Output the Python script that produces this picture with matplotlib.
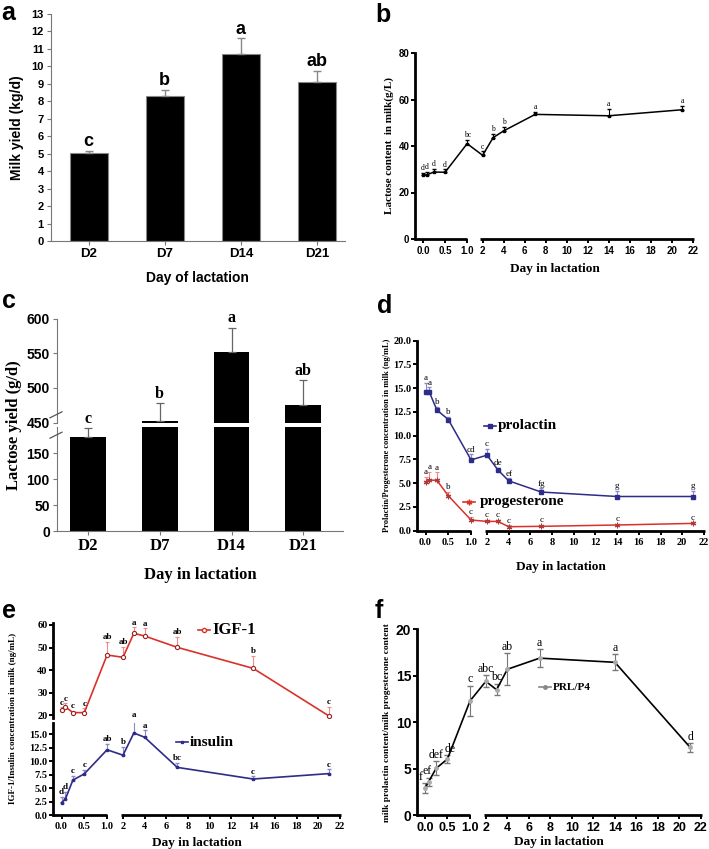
import numpy as np
import matplotlib
matplotlib.use("Agg")  # headless
import matplotlib.pyplot as plt
from matplotlib.lines import Line2D

W, H = 709, 849
SERIF = "Liberation Serif"
SANS = "Liberation Sans"

# -----------------------------
# data
# -----------------------------
bar_days = ["D2", "D7", "D14", "D21"]
milk_yield = [5.05, 8.3, 10.7, 9.1]
milk_err = [0.1, 0.35, 0.9, 0.65]
milk_sig = ["c", "b", "a", "ab"]

lac_yield = [181, 453, 552, 476]
lac_yield_err = [17, 25, 35, 35]
lac_yield_sig = ["c", "b", "a", "ab"]

days = [0, 0.083, 0.25, 0.5, 1, 2, 3, 4, 7, 14, 21]

lactose = [27.4, 27.6, 28.8, 28.7, 41.0, 36.0, 43.6, 46.5, 53.6, 53.0, 55.6]
lactose_err = [1.0, 1.2, 1.3, 1.3, 1.7, 1.7, 1.7, 1.6, 1.0, 3.0, 1.6]
lactose_sig = ["d", "d", "d", "d", "bc", "c", "b", "b", "a", "a", "a"]

prolactin = [14.6, 14.6, 12.7, 11.7, 7.45, 7.95, 6.4, 5.25, 4.07, 3.6, 3.6]
prolactin_err = [1.0, 0.5, 0.35, 0.3, 0.6, 0.7, 0.2, 0.25, 0.4, 0.6, 0.6]
prolactin_sig = ["a", "a", "b", "b", "cd", "c", "de", "ef", "fg", "g", "g"]

progesterone = [5.12, 5.33, 5.3, 3.68, 1.12, 0.98, 0.98, 0.42, 0.46, 0.6, 0.77]
progesterone_err = [0.55, 0.9, 0.85, 0.4, 0.35, 0.15, 0.15, 0.15, 0.15, 0.15, 0.1]
progesterone_sig = ["a", "a", "a", "b", "c", "c", "c", "c", "c", "c", "c"]

igf1 = [22.4, 23.8, 21.2, 21.2, 46.7, 45.7, 56.3, 55.1, 50.1, 40.8, 19.7]
igf1_err = [1.2, 1.5, 0.8, 1.9, 5.9, 4.7, 2.7, 3.4, 4.7, 5.5, 4.1]
igf1_sig = ["c", "c", "c", "c", "ab", "ab", "a", "a", "ab", "b", "c"]

insulin = [2.35, 2.95, 6.5, 7.65, 12.1, 11.1, 15.2, 14.4, 8.85, 6.7, 7.7]
insulin_err = [1.1, 1.4, 0.8, 0.7, 1.05, 1.6, 2.5, 1.3, 0.8, 0.5, 0.8]
insulin_sig = ["d", "d", "c", "c", "ab", "b", "a", "a", "bc", "c", "c"]

prl_p4 = [2.9, 3.6, 5.05, 6.05, 12.3, 14.4, 13.5, 15.7, 16.9, 16.45, 7.3]
prl_p4_err = [0.55, 0.45, 0.75, 0.4, 1.6, 0.65, 0.6, 1.7, 0.95, 0.85, 0.45]
prl_p4_sig = ["f", "ef", "def", "de", "c", "abc", "bc", "ab", "a", "a", "d"]

x_ticks = [0, 0.5, 1, 2, 4, 6, 8, 10, 12, 14, 16, 18, 20, 22]
x_ticklabels = ["0.0", "0.5", "1.0", "2", "4", "6", "8", "10", "12", "14", "16", "18", "20", "22"]

NAVY = "#2E2C86"
RED = "#D8322A"

fig = plt.figure(figsize=(W / 100, H / 100), dpi=100)


def add_ax(left, top, right, bottom):
    return fig.add_axes([left / W, 1 - bottom / H, (right - left) / W, (bottom - top) / H])


def style_ticks(ax, family, size, weight="bold"):
    for t in ax.get_xticklabels() + ax.get_yticklabels():
        t.set_fontfamily(family)
        t.set_fontsize(size)
        t.set_fontweight(weight)


# broken day axis: 0-1 stretched, 2-22 compressed
GAP_U = 1.35
SLOPE = 0.238
XMIN, XMAX = -0.18, 22.1


def fwd(x):
    x = np.asarray(x, float)
    return np.where(x <= 1, x, np.where(x >= 2, GAP_U + (x - 2) * SLOPE, 1 + (x - 1) * (GAP_U - 1)))


def inv(u):
    u = np.asarray(u, float)
    return np.where(u <= 1, u, np.where(u >= GAP_U, 2 + (u - GAP_U) / SLOPE, 1 + (u - 1) / (GAP_U - 1)))


def day_axis(ax, bottom=True, lw=2.0):
    ax.set_xscale("function", functions=(fwd, inv))
    ax.set_xlim(XMIN, XMAX)
    for s in ["top", "right", "bottom"]:
        ax.spines[s].set_visible(False)
    ax.spines["left"].set_linewidth(lw)
    ax.tick_params(axis="y", width=lw * 0.7, length=3, pad=1)
    if bottom:
        ax.set_xticks(x_ticks)
        ax.set_xticklabels(x_ticklabels)
        ax.tick_params(axis="x", width=lw * 0.7, length=3, pad=2)
        tr = ax.get_xaxis_transform()
        for a, b in [(XMIN, 1.02), (1.86, XMAX)]:
            ax.plot([a, b], [0, 0], color="black", lw=lw, transform=tr,
                    clip_on=False, solid_capstyle="butt")
    else:
        ax.set_xticks([])


def sig_labels(ax, xs, ys, errs, labels, size, weight="normal", dy=0.5, dxs=None):
    if dxs is None:
        dxs = [0] * len(xs)
    for x, y, e, s, dx in zip(xs, ys, errs, labels, dxs):
        ax.annotate(s, (x, y + e), xytext=(dx, dy), textcoords="offset points",
                    ha="center", va="bottom", fontsize=size, fontfamily=SERIF,
                    fontweight=weight, annotation_clip=False)


def key(x_px, y_px, color, marker, text, size, mfc=None, text_dx=8, ms=3):
    xs = np.array([x_px - 6, x_px, x_px + 6]) / W
    ys = np.full(3, 1 - y_px / H)
    fig.add_artist(Line2D(xs, ys, color=color, lw=1.2, marker=marker, markevery=[1],
                          ms=ms, mfc=mfc if mfc else color, mec=color,
                          transform=fig.transFigure))
    fig.text((x_px + text_dx) / W, 1 - y_px / H, text, fontsize=size, fontfamily=SERIF,
             fontweight="bold", va="center", ha="left")


def upper_err(e):
    return [np.zeros(len(e)), e]


# -----------------------------
# a: milk yield
# -----------------------------
ax = add_ax(50.7, 14, 345, 241)
xpos = np.arange(len(bar_days))
ax.bar(xpos, milk_yield, width=0.5, color="black", edgecolor="#888888", lw=0.8)
ax.errorbar(xpos, milk_yield, yerr=upper_err(milk_err), fmt="none", ecolor="#888888",
            elinewidth=1, capsize=3, capthick=1)
for x, y, e, s in zip(xpos, milk_yield, milk_err, milk_sig):
    ax.text(x, y + e + 0.05, s, ha="center", va="bottom", fontsize=13,
            fontfamily=SANS, fontweight="bold")
ax.set_xlim(-0.5, 3.37)
ax.set_ylim(0, 13)
ax.set_yticks(range(0, 14))
ax.set_xticks(xpos)
ax.set_xticklabels(bar_days)
for s in ["top", "right"]:
    ax.spines[s].set_visible(False)
for s in ["left", "bottom"]:
    ax.spines[s].set_color("#777777")
ax.tick_params(colors="#777777", labelcolor="black", length=3, pad=2)
style_ticks(ax, SANS, 8)
for t in ax.get_xticklabels():
    t.set_fontsize(9.5)
ax.set_ylabel("Milk yield (kg/d)", fontsize=10, fontfamily=SANS, fontweight="bold", labelpad=5)
ax.set_xlabel("Day of lactation", fontsize=10, fontfamily=SANS, fontweight="bold", labelpad=8)

# -----------------------------
# b: lactose content
# -----------------------------
ax = add_ax(415, 53, 694, 239)
day_axis(ax)
ax.errorbar(days, lactose, yerr=upper_err(lactose_err), color="black", lw=1.1,
            marker="s", ms=1.5, ecolor="black", elinewidth=0.8, capsize=1.5)
sig_labels(ax, days, lactose, lactose_err, lactose_sig, 5.5)
ax.set_ylim(0, 80)
ax.set_yticks([0, 20, 40, 60, 80])
style_ticks(ax, SANS, 7)
ax.set_ylabel("Lactose content  in milk(g/L)", fontsize=8, fontfamily=SERIF,
              fontweight="bold", labelpad=3)
ax.set_xlabel("Day in lactation", fontsize=9.5, fontfamily=SERIF, fontweight="bold", labelpad=5)

# -----------------------------
# c: lactose yield (broken y)
# -----------------------------
ax_hi = add_ax(56.7, 318.7, 343, 423.3)
ax_lo = add_ax(56.7, 426.7, 343, 531.3)
for a in (ax_hi, ax_lo):
    a.bar(xpos, lac_yield, width=0.5, color="black")
    a.errorbar(xpos, lac_yield, yerr=upper_err(lac_yield_err), fmt="none",
               ecolor="#666666", elinewidth=0.9, capsize=3, capthick=0.9)
    a.set_xlim(-0.43, 3.55)
    for s in ["top", "right"]:
        a.spines[s].set_visible(False)
    for s in ["left", "bottom"]:
        a.spines[s].set_color("#777777")
    a.tick_params(colors="#777777", labelcolor="black", length=3, pad=2)
ax_hi.set_ylim(449, 600)
ax_hi.set_yticks([450, 500, 550, 600])
ax_hi.spines["bottom"].set_visible(False)
ax_hi.set_xticks([])
ax_lo.set_ylim(0, 201)
ax_lo.set_yticks([0, 50, 100, 150])
ax_lo.set_xticks(xpos)
ax_lo.set_xticklabels(bar_days)
style_ticks(ax_hi, SANS, 10)
style_ticks(ax_lo, SANS, 10)
for t in ax_lo.get_xticklabels():
    t.set_fontfamily(SERIF)
    t.set_fontsize(12)
for x, y, e, s in zip(xpos, lac_yield, lac_yield_err, lac_yield_sig):
    tgt = ax_hi if y > 449 else ax_lo
    tgt.annotate(s, (x, y + e), xytext=(0, 1), textcoords="offset points", ha="center",
                 va="bottom", fontsize=11.5, fontfamily=SERIF, fontweight="bold")
# break marks on the y axis
for dy in (-0.012, 0.012):
    fig.add_artist(Line2D([50 / W, 62 / W], [1 - (425 + 3) / H + dy, 1 - (425 - 3) / H + dy],
                          color="#555555", lw=0.9, transform=fig.transFigure))
fig.text(14 / W, 1 - 425 / H, "Lactose yield (g/d)", rotation=90, fontsize=12,
         fontfamily=SERIF, fontweight="bold", ha="center", va="center")
fig.text(200 / W, 1 - 575 / H, "Day in lactation", fontsize=12,
         fontfamily=SERIF, fontweight="bold", ha="center", va="center")

# -----------------------------
# d: prolactin / progesterone
# -----------------------------
ax = add_ax(417.3, 340.7, 705, 530.7)
day_axis(ax)
ax.errorbar(days, prolactin, yerr=upper_err(prolactin_err), color=NAVY, lw=1.1,
            marker="s", ms=2.2, ecolor="#8A88C8", elinewidth=0.8, capsize=1.5)
ax.errorbar(days, progesterone, yerr=upper_err(progesterone_err), color=RED, lw=1.1,
            marker=(6, 2, 0), ms=4, mew=0.8, mec="#B03A3A", ecolor="#F08A8A",
            elinewidth=0.8, capsize=1.5)
sig_labels(ax, days, prolactin, prolactin_err, prolactin_sig, 6.5)
sig_labels(ax, days, progesterone, progesterone_err, progesterone_sig, 6.5)
ax.set_ylim(0, 20)
ax.set_yticks(np.arange(0, 20.1, 2.5))
ax.set_yticklabels([f"{v:.1f}" for v in np.arange(0, 20.1, 2.5)])
style_ticks(ax, SERIF, 7.5)
ax.set_ylabel("Prolactin/Progesterone concentration in milk (ng/mL)", fontsize=6,
              fontfamily=SERIF, fontweight="bold", labelpad=2)
ax.set_xlabel("Day in lactation", fontsize=9.5, fontfamily=SERIF, fontweight="bold", labelpad=10)
key(490, 426, NAVY, "s", "prolactin", 11, ms=2.2)
key(469, 502, RED, (6, 2, 0), "progesterone", 11, ms=4, text_dx=11)

# -----------------------------
# e: IGF-1 / insulin (broken y)
# -----------------------------
ax_hi = add_ax(53.3, 622.7, 341, 718.3)
ax_lo = add_ax(53.3, 722.7, 341, 815.3)
day_axis(ax_hi, bottom=False)
day_axis(ax_lo)
ax_hi.errorbar(days, igf1, yerr=upper_err(igf1_err), color=RED, lw=1.2, marker="o",
               ms=3, mfc="white", mec="#A02020", mew=0.8, ecolor="#F08A8A",
               elinewidth=0.8, capsize=1.5)
ax_lo.errorbar(days, insulin, yerr=upper_err(insulin_err), color=NAVY, lw=1.2,
               marker="s", ms=2, ecolor="#8A88C8", elinewidth=0.8, capsize=1.5)
sig_labels(ax_hi, days, igf1, igf1_err, igf1_sig, 6.5, weight="bold")
sig_labels(ax_lo, days, insulin, insulin_err, insulin_sig, 6.5, weight="bold")
ax_hi.set_ylim(18.7, 61)
ax_hi.set_yticks([20, 30, 40, 50, 60])
ax_lo.set_ylim(0, 17.1)
ax_lo.set_yticks(np.arange(0, 15.1, 2.5))
ax_lo.set_yticklabels([f"{v:.1f}" for v in np.arange(0, 15.1, 2.5)])
style_ticks(ax_hi, SERIF, 7.5)
style_ticks(ax_lo, SERIF, 7.5)
fig.text(13 / W, 1 - 718 / H, "IGF-1/Insulin concentration in milk (ng/mL)", rotation=90,
         fontsize=6.5, fontfamily=SERIF, fontweight="bold", ha="center", va="center")
ax_lo.set_xlabel("Day in lactation", fontsize=9.5, fontfamily=SERIF, fontweight="bold", labelpad=4)
key(204, 630, RED, "o", "IGF-1", 12, mfc="white", ms=3)
key(182, 742, NAVY, "s", "insulin", 11, ms=2)

# -----------------------------
# f: PRL/P4 ratio
# -----------------------------
ax = add_ax(416.7, 629.3, 702, 815.3)
day_axis(ax)
ax.errorbar(days, prl_p4, yerr=prl_p4_err, color="black", lw=1.2, marker="o", ms=2.5,
            mfc="#AAAAAA", mec="#AAAAAA", ecolor="#777777", elinewidth=0.8, capsize=2.5)
sig_labels(ax, days, prl_p4, prl_p4_err, prl_p4_sig, 8.5,
           dxs=[-3, -1, 0, 2, 0, 0, 0, 0, 0, 0, 0])
ax.set_ylim(0, 20)
ax.set_yticks([0, 5, 10, 15, 20])
style_ticks(ax, SANS, 10)
for t in ax.get_xticklabels():
    t.set_fontsize(9)
ax.set_ylabel("milk prolactin content/milk progesterone content", fontsize=6.8,
              fontfamily=SERIF, fontweight="bold", labelpad=3)
ax.set_xlabel("Day in lactation", fontsize=9.5, fontfamily=SERIF, fontweight="bold", labelpad=1)
key(545, 687, "#888888", "o", "PRL/P4", 8, ms=2.5)

# panel letters
for lbl, x, y in [("a", 1, 20), ("b", 375, 22), ("c", 2, 308),
                  ("d", 377, 313), ("e", 2, 618), ("f", 375, 618)]:
    fig.text(x / W, 1 - y / H, lbl, fontsize=18, fontfamily=SANS, fontweight="bold",
             ha="left", va="baseline")

fig.savefig("out.png", dpi=100)
